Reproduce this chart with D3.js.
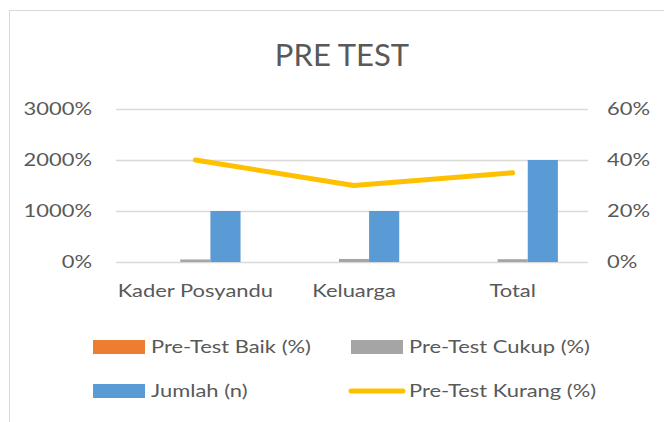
<!DOCTYPE html>
<html>
<head>
<meta charset="utf-8">
<script src="https://cdn.jsdelivr.net/npm/d3@7"></script>
<style>
  body { margin: 0; background: #fff; }
  text { font-family: Lato, "Open Sans", sans-serif; fill: #595959; }
</style>
</head>
<body>
<div id="chart"></div>
<script>
const categories = ['Kader Posyandu', 'Keluarga', 'Total'];
const barSeries = ['Pre-Test Baik (%)', 'Pre-Test Cukup (%)', 'Jumlah (n)'];
const baik = [0, 0, 0];
const cukup = [0.5, 0.6, 0.55];
const jumlah = [10, 10, 20];
const kurang = [0.40, 0.30, 0.35];
const leftTicks = [0, 10, 20, 30];
const rightTicks = [0, 0.2, 0.4, 0.6];

const colors = {
  'Pre-Test Baik (%)': '#ED7D31',
  'Pre-Test Cukup (%)': '#A5A5A5',
  'Jumlah (n)': '#5B9BD5',
  'Pre-Test Kurang (%)': '#FFC000',
};

const width = 664;
const height = 422;
const plot = { left: 116, right: 592, top: 109, bottom: 262 };
const labelSize = '17px';
const stretch = 1.29;

// widen small labels like the original rendering
const widen = sel => sel.each(function() {
  const len = this.getComputedTextLength();
  d3.select(this)
    .attr('textLength', len * stretch)
    .attr('lengthAdjust', 'spacingAndGlyphs');
});

const svg = d3.select('#chart').append('svg')
  .attr('width', width)
  .attr('height', height);

// chart frame
svg.append('rect')
  .attr('x', 9.5).attr('y', 10.5)
  .attr('width', 700).attr('height', 450)
  .attr('fill', 'none')
  .attr('stroke', '#d9d9d9');

svg.append('text')
  .attr('x', 342).attr('y', 66)
  .attr('text-anchor', 'middle')
  .attr('font-size', '31px')
  .text('PRE TEST');

const x0 = d3.scaleBand()
  .domain(categories)
  .range([plot.left, plot.right])
  .paddingInner(0.43)
  .paddingOuter(0.215);

const x1 = d3.scaleBand()
  .domain(barSeries)
  .range([0, x0.bandwidth()]);

const yLeft = d3.scaleLinear().domain([0, 30]).range([plot.bottom, plot.top]);
const yRight = d3.scaleLinear().domain([0, 0.6]).range([plot.bottom, plot.top]);

// gridlines
svg.append('g')
  .attr('transform', `translate(${plot.left},0)`)
  .call(d3.axisLeft(yLeft).tickValues(leftTicks).tickSize(-(plot.right - plot.left - 4)).tickFormat(''))
  .call(g => g.select('.domain').remove())
  .call(g => g.selectAll('line').attr('stroke', '#d9d9d9').attr('stroke-width', 1.3));

const styleLabels = g => g.selectAll('text')
  .attr('font-size', labelSize)
  .attr('font-family', 'Lato')
  .attr('fill', '#595959')
  .call(widen);

// left axis labels
svg.append('g')
  .attr('transform', `translate(${plot.left - 24},0)`)
  .call(d3.axisLeft(yLeft).tickValues(leftTicks).tickSize(0).tickPadding(0).tickFormat(d3.format('.0%')))
  .call(g => g.select('.domain').remove())
  .call(styleLabels);

// right axis labels
svg.append('g')
  .attr('transform', `translate(${plot.right + 15},0)`)
  .call(d3.axisRight(yRight).tickValues(rightTicks).tickSize(0).tickPadding(0).tickFormat(d3.format('.0%')))
  .call(g => g.select('.domain').remove())
  .call(styleLabels);

// category labels
svg.append('g')
  .attr('transform', `translate(0,${plot.bottom + 23})`)
  .call(d3.axisBottom(x0).tickSize(0).tickPadding(0))
  .call(g => g.select('.domain').remove())
  .call(styleLabels);

const rows = categories.map((c, i) => ({
  category: c,
  values: [
    { key: barSeries[0], value: baik[i] },
    { key: barSeries[1], value: cukup[i] },
    { key: barSeries[2], value: jumlah[i] },
  ],
}));

svg.append('g')
  .selectAll('g')
  .data(rows)
  .join('g')
  .attr('transform', d => `translate(${x0(d.category)},0)`)
  .selectAll('rect')
  .data(d => d.values)
  .join('rect')
  .attr('x', d => x1(d.key))
  .attr('y', d => yLeft(d.value))
  .attr('width', x1.bandwidth())
  .attr('height', d => yLeft(0) - yLeft(d.value))
  .attr('fill', d => colors[d.key]);

const line = d3.line()
  .x((d, i) => x0(categories[i]) + x0.bandwidth() / 2)
  .y(d => yRight(d));

svg.append('path')
  .datum(kurang)
  .attr('d', line)
  .attr('fill', 'none')
  .attr('stroke', colors['Pre-Test Kurang (%)'])
  .attr('stroke-width', 5)
  .attr('stroke-linecap', 'round')
  .attr('stroke-linejoin', 'round');

// legend
const legendItems = [
  { key: 'Pre-Test Baik (%)', x: 93, y: 347, type: 'rect' },
  { key: 'Pre-Test Cukup (%)', x: 351, y: 347, type: 'rect' },
  { key: 'Jumlah (n)', x: 93, y: 391, type: 'rect' },
  { key: 'Pre-Test Kurang (%)', x: 351, y: 391, type: 'line' },
];

const legend = svg.append('g')
  .selectAll('g')
  .data(legendItems)
  .join('g')
  .attr('transform', d => `translate(${d.x},${d.y})`);

legend.filter(d => d.type === 'rect')
  .append('rect')
  .attr('x', 0).attr('y', -7)
  .attr('width', 52).attr('height', 14)
  .attr('fill', d => colors[d.key]);

legend.filter(d => d.type === 'line')
  .append('line')
  .attr('x1', 0).attr('x2', 52)
  .attr('stroke', d => colors[d.key])
  .attr('stroke-width', 5)
  .attr('stroke-linecap', 'round');

legend.append('text')
  .attr('x', 58)
  .attr('dy', '0.36em')
  .attr('font-size', labelSize)
  .text(d => d.key)
  .call(widen);
</script>
</body>
</html>
